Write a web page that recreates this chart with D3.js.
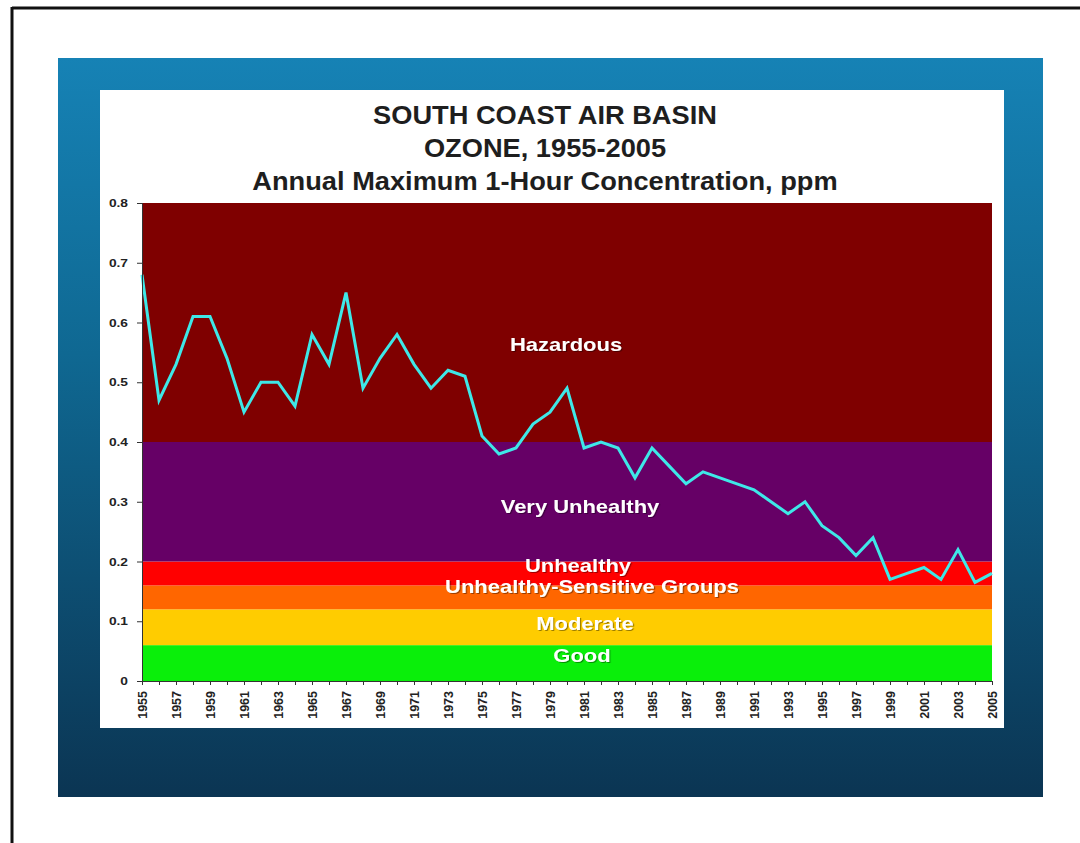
<!DOCTYPE html>
<html>
<head>
<meta charset="utf-8">
<script src="https://cdn.jsdelivr.net/npm/d3@7/dist/d3.min.js"></script>
<style>
  html, body { margin: 0; padding: 0; background: #ffffff; }
  svg { display: block; }
  text { font-family: "Liberation Sans", Arial, Helvetica, sans-serif; }
</style>
</head>
<body>
<svg id="chart" width="1080" height="843"></svg>
<script>
// Annual maximum 1-hour ozone concentration (ppm), South Coast Air Basin
const years = [1955,1956,1957,1958,1959,1960,1961,1962,1963,1964,
               1965,1966,1967,1968,1969,1970,1971,1972,1973,1974,
               1975,1976,1977,1978,1979,1980,1981,1982,1983,1984,
               1985,1986,1987,1988,1989,1990,1991,1992,1993,1994,
               1995,1996,1997,1998,1999,2000,2001,2002,2003,2004,2005];
const ozone = [0.68,0.47,0.53,0.61,0.61,0.54,0.45,0.50,0.50,0.46,
               0.58,0.53,0.65,0.49,0.54,0.58,0.53,0.49,0.52,0.51,
               0.41,0.38,0.39,0.43,0.45,0.49,0.39,0.40,0.39,0.34,
               0.39,0.36,0.33,0.35,0.34,0.33,0.32,0.30,0.28,0.30,
               0.26,0.24,0.21,0.24,0.17,0.18,0.19,0.17,0.22,0.165,0.18];

// Air quality index bands (ppm)
const bandNames  = ["Good","Moderate","Unhealthy-Sensitive Groups","Unhealthy","Very Unhealthy","Hazardous"];
const bandLow    = [0,    0.06, 0.12, 0.16, 0.20, 0.40];
const bandHigh   = [0.06, 0.12, 0.16, 0.20, 0.40, 0.80];
const bandColors = ["#0aef0a","#ffcc00","#ff6600","#ff0000","#660066","#7f0000"];

const yTicks = [0, 0.1, 0.2, 0.3, 0.4, 0.5, 0.6, 0.7, 0.8];
const yTickLabels = ["0","0.1","0.2","0.3","0.4","0.5","0.6","0.7","0.8"];
const xLabelYears = years.filter((y, i) => i % 2 === 0);

const titleLines = ["SOUTH COAST AIR BASIN", "OZONE, 1955-2005", "Annual Maximum 1-Hour Concentration, ppm"];

// Layout
const plot = { left: 142, right: 992, top: 203, bottom: 681 };
// label placement within the bands: [x pixel, baseline value]
const bandLabelPos = {
  "Hazardous": [566, 0.552],
  "Very Unhealthy": [580, 0.281],
  "Unhealthy": [578, 0.183],
  "Unhealthy-Sensitive Groups": [592, 0.148],
  "Moderate": [585, 0.085],
  "Good": [582, 0.031]
};
const textStretch = { title: 1.09, band: 1.22, yTick: 1.25 };

const svg = d3.select("#chart");
const defs = svg.append("defs");

const grad = defs.append("linearGradient")
  .attr("id", "frameGrad").attr("x1", 0).attr("y1", 0).attr("x2", 0).attr("y2", 1);
grad.append("stop").attr("offset", "0%").attr("stop-color", "#1682b5");
grad.append("stop").attr("offset", "40%").attr("stop-color", "#0f6892");
grad.append("stop").attr("offset", "100%").attr("stop-color", "#0b3553");

const shadow = defs.append("filter").attr("id", "txtShadow")
  .attr("x", "-10%").attr("y", "-30%").attr("width", "120%").attr("height", "160%");
shadow.append("feDropShadow").attr("dx", 1).attr("dy", 1).attr("stdDeviation", 0.6)
  .attr("flood-color", "#000").attr("flood-opacity", 0.4);

// Page border
svg.append("line").attr("x1", 12).attr("x2", 1080).attr("y1", 8).attr("y2", 8)
  .attr("stroke", "#111").attr("stroke-width", 3);
svg.append("line").attr("x1", 12).attr("x2", 12).attr("y1", 7).attr("y2", 843)
  .attr("stroke", "#111").attr("stroke-width", 3);

// Blue slide frame and white chart panel
svg.append("rect").attr("x", 58).attr("y", 58).attr("width", 985).attr("height", 739)
  .attr("fill", "url(#frameGrad)");
svg.append("rect").attr("x", 100).attr("y", 90).attr("width", 904).attr("height", 638)
  .attr("fill", "#ffffff");

// Scales
const x = d3.scaleLinear().domain([1955, 2005]).range([plot.left, plot.right]);
const y = d3.scaleLinear().domain([0, 0.8]).range([plot.bottom, plot.top]);

// Bands
const bands = bandNames.map((n, i) => ({ name: n, lo: bandLow[i], hi: bandHigh[i], color: bandColors[i] }));
svg.append("g").selectAll("rect").data(bands).join("rect")
  .attr("x", plot.left)
  .attr("width", plot.right - plot.left)
  .attr("y", d => y(d.hi))
  .attr("height", d => y(d.lo) - y(d.hi))
  .attr("fill", d => d.color);

// Band labels
svg.append("g").selectAll("text").data(bands).join("text")
  .attr("transform", d => `translate(${bandLabelPos[d.name][0]},${y(bandLabelPos[d.name][1])}) scale(${textStretch.band},1)`)
  .attr("text-anchor", "middle")
  .attr("fill", "#ffffff")
  .attr("font-weight", "bold")
  .attr("font-size", 18)
  .attr("filter", "url(#txtShadow)")
  .text(d => d.name);

// Ozone line
const line = d3.line().x((d, i) => x(years[i])).y(d => y(d));
svg.append("path").datum(ozone)
  .attr("d", line)
  .attr("fill", "none")
  .attr("stroke", "#3ee8e8")
  .attr("stroke-width", 3)
  .attr("stroke-linejoin", "miter");

// Y axis
const yAxis = d3.axisLeft(y).tickValues(yTicks).tickSize(5).tickPadding(0)
  .tickFormat((d, i) => yTickLabels[i]);
const gy = svg.append("g").attr("transform", `translate(${plot.left},0)`).call(yAxis);
gy.select(".domain").attr("stroke", "#333");
gy.selectAll(".tick line").attr("stroke", "#333");
gy.selectAll(".tick text")
  .attr("x", 0)
  .attr("transform", `translate(-14,0) scale(${textStretch.yTick},1)`)
  .attr("font-size", 11).attr("font-weight", "bold").attr("fill", "#222")
  .style("font-family", "'Liberation Sans', Arial, sans-serif");

// X axis
const xAxis = d3.axisBottom(x).tickValues(years).tickSize(4).tickFormat(d => xLabelYears.includes(d) ? d : "");
const gx = svg.append("g").attr("transform", `translate(0,${plot.bottom})`).call(xAxis);
gx.select(".domain").attr("stroke", "#333");
gx.selectAll(".tick line").attr("stroke", "#333");
gx.selectAll(".tick text")
  .attr("font-size", 12.5).attr("font-weight", "bold").attr("fill", "#222")
  .style("font-family", "'Liberation Sans', Arial, sans-serif")
  .attr("text-anchor", "end")
  .attr("dy", "0.35em")
  .attr("transform", "translate(0,10) rotate(-90)")
  .attr("x", 0).attr("y", 0);

// Title
svg.append("g").selectAll("text").data(titleLines).join("text")
  .attr("transform", (d, i) => `translate(545,${124 + i * 33}) scale(${textStretch.title},1)`)
  .attr("text-anchor", "middle")
  .attr("font-weight", "bold")
  .attr("font-size", 25)
  .attr("fill", "#1e1e1e")
  .text(d => d);
</script>
</body>
</html>
